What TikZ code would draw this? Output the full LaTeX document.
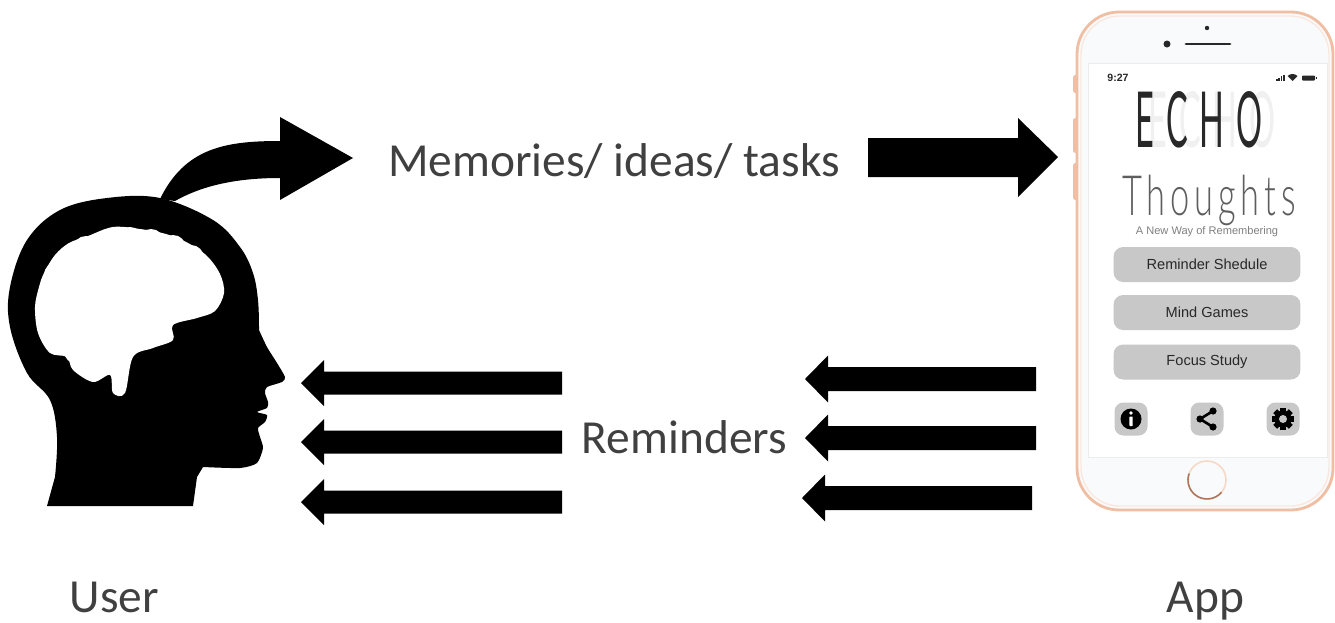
\documentclass[tikz,border=0pt]{standalone}
\usepackage{fontspec}
\setmainfont{Carlito}
\newfontfamily\uifont{Liberation Sans}
\newfontfamily\thinfont{Lato Light}
\newfontfamily\titlefont{Lato}
\usepackage{graphicx}
\usetikzlibrary{positioning}
\definecolor{labelgray}{RGB}{64,64,64}
\definecolor{phonerim}{RGB}{240,190,162}
\definecolor{phonebody}{RGB}{249,250,252}
\definecolor{keygray}{RGB}{200,200,200}
\definecolor{inkdark}{RGB}{40,40,40}
\definecolor{homering}{RGB}{176,118,92}

\newcommand{\echoword}{\scalebox{0.42}[1]{\titlefont\fontsize{44}{44}\selectfont E\hspace{0.36em}C\hspace{0.36em}H\hspace{0.36em}O}}

\tikzset{
  labeltext/.style={text=labelgray, font=\fontsize{27}{32}\selectfont, inner sep=0pt, anchor=base},
  menukey/.style={fill=keygray, rounded corners=5.5pt, minimum width=3.74cm, minimum height=0.7cm,
    inner sep=0pt, font=\uifont\fontsize{8.3}{10}\selectfont, text=inkdark},
  iconkey/.style={fill=keygray, rounded corners=5pt, minimum size=0.66cm, inner sep=0pt},
}

\begin{document}
\begin{tikzpicture}[x=0.02cm, y=-0.02cm]
  \useasboundingbox (0,0) rectangle (1335,622);

  % head silhouette
  \fill[black] (47,506) -- plot[smooth, tension=0.6] coordinates {(55,477) (57,437) (50,400) (27,373)
      (10,327) (10,287) (27,240) (60,210) (107,198) (160,198) (213,220) (240,247) (253,273)
      (258,300) (259,327)}
    -- plot[smooth, tension=0.4] coordinates {(259,330) (267,347) (277,363) (285,377) (282,382)
      (267,387) (265,393) (268,402) (267,408) (257,412) (267,415) (265,422) (258,428) (260,437)
      (263,448) (257,463) (240,468) (203,467)}
    -- (197,477) -- (193,506) -- cycle;
  % brain, with little lobes along its rim
  \fill[white] plot[smooth cycle, tension=0.55] coordinates {(44,273) (55,255) (69,243) (88,236)
      (113,227) (140,229) (166,234) (188,243) (207,256) (220,274) (224,293) (215,311) (197,318)
      (173,325) (173,340) (153,348) (133,357) (125,393) (113,393) (110,375) (93,382) (73,370)
      (67,357) (50,353) (38,333) (35,307) (39,287)};
  \foreach \p in {(57,275), (69,260), (86,249), (108,242), (130,240), (151,242), (173,248),
      (191,258), (204,273), (208,292), (52,297), (50,318), (57,337), (77,351), (100,360)}
    \fill[white] \p circle (13);

  % thought leaving the head
  \fill (160,199) .. controls (185,148) and (225,141) .. (280,141) -- (280,117) -- (353,158)
    -- (280,200) -- (280,178) .. controls (230,178) and (198,188) .. (175,201) -- cycle;
  \node[labeltext] (ideas) at (614,176) {Memories/ ideas/ tasks};
  \fill (868,138) -- (1018,138) -- (1018,118) -- (1058,157) -- (1018,197) -- (1018,177)
    -- (868,177) -- cycle;

  % reminders coming back
  \foreach \y in {383,442,502}
    \fill (562,\y-11.5) -- (324,\y-11.5) -- (324,\y-23) -- (301,\y) -- (324,\y+23)
      -- (324,\y+11.5) -- (562,\y+11.5) -- cycle;
  \foreach \t/\y/\e in {805/379/1036, 805/438/1036, 802/498/1032}
    \fill (\e,\y-12) -- (\t+23,\y-12) -- (\t+23,\y-23.5) -- (\t,\y) -- (\t+23,\y+23.5)
      -- (\t+23,\y+12) -- (\e,\y+12) -- cycle;
  \node[labeltext] (remind) at (684.5,453) {Reminders};

  % phone
  \foreach \a/\b in {75/93, 118/153, 163/200}
    \fill[phonerim, rounded corners=1pt] (1073,\a) rectangle (1078,\b);
  \draw[phonerim, line width=1.6pt, fill=phonebody, rounded corners=24pt] (1077,12) rectangle (1333,510);
  \draw[phonerim!35, line width=0.8pt, rounded corners=22pt] (1081,16) rectangle (1329,506);
  \draw[gray!15, fill=white] (1088,63) rectangle (1327,457);
  \draw[inkdark, line width=1.6pt, line cap=round] (1186,44) -- (1230,44);
  \fill[inkdark] (1167,44) circle (3.5);
  \fill[inkdark] (1207,28) circle (2.2);
  \draw[phonerim!60, line width=0.9pt] (1207,480) circle (19);
  \draw[homering, line width=0.9pt] (1207,480) ++(40:19) arc[start angle=40, end angle=200, radius=19];

  % status bar
  \node[font=\uifont\bfseries\fontsize{6}{7}\selectfont, text=inkdark, inner sep=0pt] (clock) at (1118,78) {9:27};
  \foreach \i in {0,...,3}
    \fill[inkdark] (1276+\i*2.4,81) rectangle ++(1.5,-2-\i*1.3);
  \fill[inkdark] (1292.5,81) -- ++(225:7) arc[start angle=225, end angle=315, radius=7] -- cycle;
  \fill[inkdark, rounded corners=0.5pt] (1302,75.5) rectangle (1315,80.5);
  \fill[inkdark] (1315.5,76.8) rectangle (1317,79.2);

  % title
  \node[text=gray!12, inner sep=0pt] (echoshade) at (1212,120) {\echoword};
  \node[text=inkdark, inner sep=0pt] (echo) at (1199,120) {\echoword};
  \node[text=inkdark!75, inner sep=0pt, anchor=base] (thoughts) at (1209,215)
    {\scalebox{0.62}[1]{\thinfont\fontsize{31.6}{32}\selectfont\addfontfeature{LetterSpace=14}Thoughts}};
  \node[text=gray, inner sep=0pt, anchor=base, font=\uifont\fontsize{6.3}{7}\selectfont] (slogan)
    at (1207,234) {A New Way of Remembering};

  % menu
  \foreach \t/\y/\n in {Reminder Shedule/264.5/sched, Mind Games/312.5/games, Focus Study/362/focus}
    \node[menukey] (\n) at (1207,\y) {\t};
  \node[iconkey] (info) at (1131,419) {};
  \node[iconkey] (share) at (1207,419) {};
  \node[iconkey] (gear) at (1283,419) {};
  \begin{scope}[shift={(info.center)}]
    \fill circle (10.5);
    \fill[white] (0,-6) circle (1.9);
    \fill[white, rounded corners=0.4pt] (-1.7,-2.5) rectangle (1.7,7);
  \end{scope}
  \begin{scope}[shift={(share.center)}]
    \draw[line width=1.5pt] (6,-8) -- (-7,0) -- (6,8);
    \fill (6,-8) circle (3.6) (-7,0) circle (3.6) (6,8) circle (3.6);
  \end{scope}
  \begin{scope}[shift={(gear.center)}]
    \foreach \a in {0,45,...,135}
      \fill[rotate=\a] (-2.8,-11) rectangle (2.8,11);
    \fill circle (8.5);
    \fill[keygray] circle (4);
  \end{scope}

  \node[labeltext] (user) at (114.5,612) {User};
  \node[labeltext] (app) at (1205.5,612) {App};
\end{tikzpicture}
\end{document}
